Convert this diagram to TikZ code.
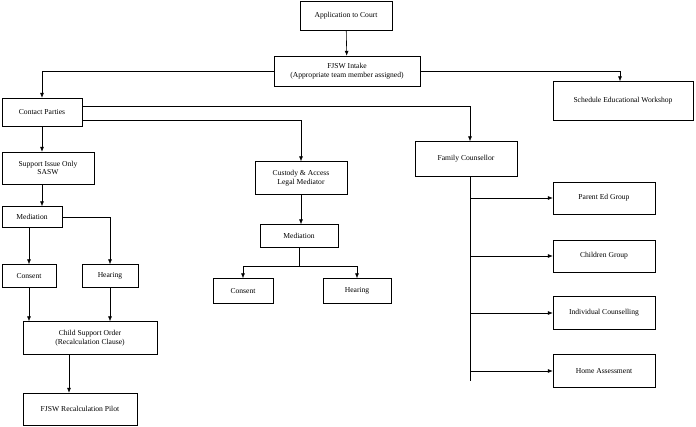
\documentclass[tikz,border=0pt]{standalone}
\usepackage{fontspec}
\setmainfont{Liberation Serif}
\usetikzlibrary{positioning,arrows.meta}
\tikzset{
  box/.style={draw, fill=white, align=center, inner sep=1pt, font=\fontsize{7.6}{8.6}\selectfont},
  link/.style={-{Latex[length=5pt,width=4pt]}, line width=0.6pt},
  line/.style={line width=0.6pt}
}
\begin{document}
\begin{tikzpicture}[x=1pt,y=-1pt]
    \useasboundingbox (0,0) rectangle (696,426);
    % top
    \node[box, minimum width=92, minimum height=29] (court) at (346,16) {Application to Court};
    \node[box, minimum width=146, minimum height=30] (intake) at (347,71) {FJSW Intake\\(Appropriate team member assigned)};
    \node[box, minimum width=80, minimum height=28] (contact) at (42,112) {Contact Parties};
    \node[box, minimum width=140, minimum height=39] (workshop) at (623,101) {Schedule Educational Workshop};
    % second row
    \node[box, minimum width=92, minimum height=32] (support) at (48,168) {Support Issue Only\\SASW};
    \node[box, minimum width=92, minimum height=33] (custody) at (301,178) {Custody \& Access\\Legal Mediator};
    \node[box, minimum width=102, minimum height=35] (counsellor) at (466,159) {Family Counsellor};
    % support branch
    \node[box, minimum width=60, minimum height=21] (medleft) at (32,217) {Mediation};
    \node[box, minimum width=54, minimum height=23] (consleft) at (29,276) {Consent};
    \node[box, minimum width=56, minimum height=23] (hearleft) at (110,276) {Hearing};
    \node[box, minimum width=134, minimum height=33] (order) at (90,338) {Child Support Order\\(Recalculation Clause)};
    \node[box, minimum width=114, minimum height=32] (pilot) at (80,409) {FJSW Recalculation Pilot};
    % custody branch
    \node[box, minimum width=78, minimum height=23] (medmid) at (299,236) {Mediation};
    \node[box, minimum width=60, minimum height=25] (consmid) at (243,291) {Consent};
    \node[box, minimum width=68, minimum height=25] (hearmid) at (357,291) {Hearing};
    % counsellor branch
    \node[box, minimum width=102, minimum height=32] (parent) at (604,198) {Parent Ed Group};
    \node[box, minimum width=102, minimum height=32] (children) at (604,256) {Children Group};
    \node[box, minimum width=102, minimum height=33] (individual) at (604,313) {Individual Counselling};
    \node[box, minimum width=102, minimum height=33] (home) at (604,371) {Home Assessment};

    % connectors
    \draw[link] (court) -- (intake);
    \draw[link] (intake.west) -| (contact.north);
    \draw[link] (intake.east) -| (workshop.north -| 620,0);
    \draw[link] (contact) -- (support.north -| contact);
    \draw[link] ([yshift=6]contact.east) -| (counsellor.north -| 470,0);
    \draw[link] ([yshift=-8]contact.east) -| (custody.north);
    \draw[link] (support.south -| contact) -- (medleft.north -| contact);
    \draw[link] (medleft.east) -| (hearleft.north);
    \draw[link] (medleft.south -| consleft) -- (consleft.north);
    \draw[link] (consleft.south) -- (order.north -| consleft);
    \draw[link] (hearleft.south) -- (order.north -| hearleft);
    \draw[link] (order.south -| 69,0) -- (pilot.north -| 69,0);
    \draw[link] (custody.south) -- (medmid.north -| custody);
    \coordinate (split) at (299,266);
    \draw[line] (medmid.south) -- (split);
    \draw[link] (split) -| (consmid.north);
    \draw[link] (split) -| (hearmid.north);
    \coordinate (trunk) at (470,381);
    \draw[line] (counsellor.south -| trunk) -- (trunk);
    \foreach \n in {parent,children,individual,home}
        \draw[link] (\n.west -| trunk) -- (\n.west);
\end{tikzpicture}
\end{document}
